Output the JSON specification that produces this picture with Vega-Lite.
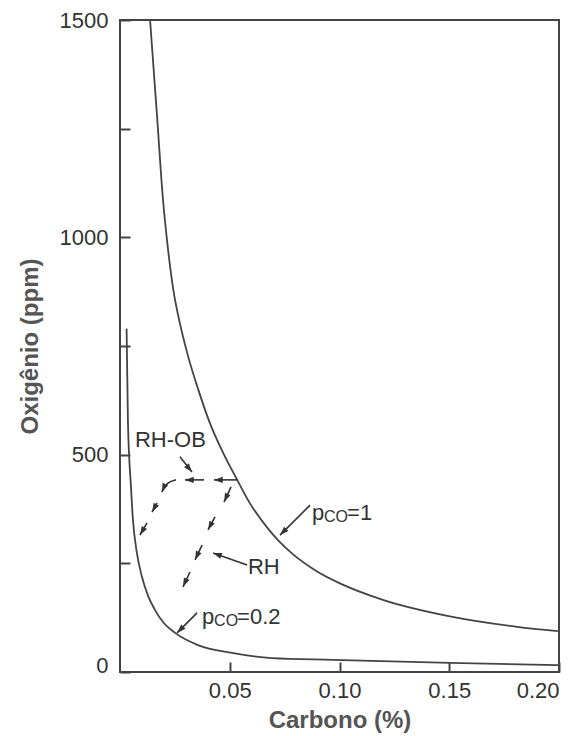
{
  "$schema": "https://vega.github.io/schema/vega-lite/v6.json",
  "width": 439,
  "height": 652,
  "autosize": "none",
  "padding": {"left": 120, "top": 20, "right": 16, "bottom": 64},
  "background": "white",
  "config": {
    "font": "Liberation Sans",
    "view": {"stroke": "#444", "strokeWidth": 2}
  },
  "datasets": {
    "curves": [
      {"curve": "pCO=1", "C": 0.0137, "O": 1500},
      {"curve": "pCO=1", "C": 0.0169, "O": 1277},
      {"curve": "pCO=1", "C": 0.0196, "O": 1086},
      {"curve": "pCO=1", "C": 0.0216, "O": 985},
      {"curve": "pCO=1", "C": 0.0243, "O": 879},
      {"curve": "pCO=1", "C": 0.0273, "O": 802},
      {"curve": "pCO=1", "C": 0.0311, "O": 725},
      {"curve": "pCO=1", "C": 0.0357, "O": 649},
      {"curve": "pCO=1", "C": 0.041, "O": 572},
      {"curve": "pCO=1", "C": 0.0471, "O": 503},
      {"curve": "pCO=1", "C": 0.0534, "O": 442},
      {"curve": "pCO=1", "C": 0.0592, "O": 388},
      {"curve": "pCO=1", "C": 0.0668, "O": 334},
      {"curve": "pCO=1", "C": 0.0724, "O": 301},
      {"curve": "pCO=1", "C": 0.079, "O": 270},
      {"curve": "pCO=1", "C": 0.0896, "O": 232},
      {"curve": "pCO=1", "C": 0.1002, "O": 204},
      {"curve": "pCO=1", "C": 0.1198, "O": 166},
      {"curve": "pCO=1", "C": 0.1503, "O": 128},
      {"curve": "pCO=1", "C": 0.1809, "O": 104},
      {"curve": "pCO=1", "C": 0.1995, "O": 94},
      {"curve": "pCO=0.2", "C": 0.003, "O": 790},
      {"curve": "pCO=0.2", "C": 0.0036, "O": 580},
      {"curve": "pCO=0.2", "C": 0.005, "O": 426},
      {"curve": "pCO=0.2", "C": 0.0059, "O": 350},
      {"curve": "pCO=0.2", "C": 0.0077, "O": 274},
      {"curve": "pCO=0.2", "C": 0.01, "O": 219},
      {"curve": "pCO=0.2", "C": 0.0128, "O": 175},
      {"curve": "pCO=0.2", "C": 0.0159, "O": 143},
      {"curve": "pCO=0.2", "C": 0.0196, "O": 115},
      {"curve": "pCO=0.2", "C": 0.0251, "O": 90},
      {"curve": "pCO=0.2", "C": 0.0355, "O": 62},
      {"curve": "pCO=0.2", "C": 0.051, "O": 44},
      {"curve": "pCO=0.2", "C": 0.0692, "O": 32},
      {"curve": "pCO=0.2", "C": 0.097, "O": 28},
      {"curve": "pCO=0.2", "C": 0.1503, "O": 21},
      {"curve": "pCO=0.2", "C": 0.1995, "O": 16}
    ],
    "strokes": [
      {"seg": "A1", "k": 0, "C": 0.0534, "O": 442},
      {"seg": "A1", "k": 1, "C": 0.0428, "O": 442},
      {"seg": "A2", "k": 0, "C": 0.0383, "O": 442},
      {"seg": "A2", "k": 1, "C": 0.0296, "O": 442},
      {"seg": "A3", "k": 0, "C": 0.0255, "O": 442},
      {"seg": "A3", "k": 1, "C": 0.0214, "O": 437},
      {"seg": "A3", "k": 2, "C": 0.0191, "O": 414},
      {"seg": "A4", "k": 0, "C": 0.0169, "O": 389},
      {"seg": "A4", "k": 1, "C": 0.0146, "O": 368},
      {"seg": "A5", "k": 0, "C": 0.0123, "O": 343},
      {"seg": "A5", "k": 1, "C": 0.0091, "O": 315},
      {"seg": "B1", "k": 0, "C": 0.0506, "O": 426},
      {"seg": "B1", "k": 1, "C": 0.0474, "O": 391},
      {"seg": "B2", "k": 0, "C": 0.0433, "O": 357},
      {"seg": "B2", "k": 1, "C": 0.0401, "O": 327},
      {"seg": "B3", "k": 0, "C": 0.0374, "O": 292},
      {"seg": "B3", "k": 1, "C": 0.0342, "O": 258},
      {"seg": "B4", "k": 0, "C": 0.0319, "O": 230},
      {"seg": "B4", "k": 1, "C": 0.0287, "O": 196},
      {"seg": "P1", "k": 0, "C": 0.0273, "O": 495},
      {"seg": "P1", "k": 1, "C": 0.0328, "O": 460},
      {"seg": "P2", "k": 0, "C": 0.0579, "O": 246},
      {"seg": "P2", "k": 1, "C": 0.0424, "O": 274},
      {"seg": "P3", "k": 0, "C": 0.0866, "O": 384},
      {"seg": "P3", "k": 1, "C": 0.0729, "O": 315},
      {"seg": "P4", "k": 0, "C": 0.0351, "O": 136},
      {"seg": "P4", "k": 1, "C": 0.026, "O": 90}
    ],
    "heads": [
      {"C": 0.0428, "O": 442, "heading": 270},
      {"C": 0.0296, "O": 442, "heading": 270},
      {"C": 0.0191, "O": 414, "heading": 203},
      {"C": 0.0146, "O": 368, "heading": 209},
      {"C": 0.0091, "O": 315, "heading": 210},
      {"C": 0.0474, "O": 391, "heading": 205},
      {"C": 0.0401, "O": 327, "heading": 208},
      {"C": 0.0342, "O": 258, "heading": 205},
      {"C": 0.0287, "O": 196, "heading": 205},
      {"C": 0.0328, "O": 460, "heading": 141},
      {"C": 0.0424, "O": 274, "heading": 290},
      {"C": 0.0729, "O": 315, "heading": 225},
      {"C": 0.026, "O": 90, "heading": 225}
    ],
    "notes": [
      {"C": 0.0068, "O": 534, "text": "RH-OB"},
      {"C": 0.0583, "O": 242, "text": "RH"}
    ],
    "pco": [
      {"C": 0.0875, "O": 366, "suffix": "=1"},
      {"C": 0.0374, "O": 127, "suffix": "=0.2"}
    ]
  },
  "encoding": {
    "x": {
      "field": "C",
      "type": "quantitative",
      "scale": {"domain": [0, 0.2], "nice": false, "zero": false},
      "axis": {
        "title": "Carbono (%)",
        "values": [0.05, 0.1, 0.15, 0.2],
        "format": ".2f",
        "domain": false,
        "grid": false,
        "tickSize": -10,
        "tickColor": "#444",
        "tickWidth": 2,
        "labelFontSize": 22,
        "labelColor": "#333",
        "labelPadding": 18,
        "titleFontSize": 24,
        "titleFontWeight": "bold",
        "titleColor": "#555",
        "titleX": 219.5,
        "titleY": 48,
        "titleBaseline": "middle"
      }
    },
    "y": {
      "field": "O",
      "type": "quantitative",
      "scale": {"domain": [0, 1500], "nice": false, "zero": false},
      "axis": {
        "title": "Oxigênio (ppm)",
        "values": [0, 250, 500, 750, 1000, 1250, 1500],
        "format": "d",
        "labelExpr": "datum.value % 500 == 0 ? datum.label : ''",
        "domain": false,
        "grid": false,
        "tickSize": -10,
        "tickColor": "#444",
        "tickWidth": 2,
        "labelFontSize": 22,
        "labelColor": "#333",
        "labelPadding": 22,
        "labelBaseline": {"expr": "datum.value == 0 ? 'alphabetic' : 'middle'"},
        "titleFontSize": 24,
        "titleFontWeight": "bold",
        "titleColor": "#555",
        "titleAngle": -90,
        "titleX": -90,
        "titleY": 326,
        "titleBaseline": "middle",
        "titleAlign": "center"
      }
    }
  },
  "layer": [
    {
      "data": {"name": "curves"},
      "mark": {"type": "line", "interpolate": "monotone", "color": "#444", "strokeWidth": 1.8},
      "encoding": {"detail": {"field": "curve"}}
    },
    {
      "data": {"name": "strokes"},
      "mark": {"type": "line", "interpolate": "basis", "color": "#333", "strokeWidth": 1.6},
      "encoding": {
        "detail": {"field": "seg"},
        "order": {"field": "k", "type": "quantitative"}
      }
    },
    {
      "data": {"name": "heads"},
      "mark": {
        "type": "point",
        "shape": "M0,0L-0.38,1.1L0.38,1.1Z",
        "filled": true,
        "size": 256,
        "color": "#333",
        "opacity": 1
      },
      "encoding": {
        "angle": {"field": "heading", "type": "quantitative", "scale": null}
      }
    },
    {
      "data": {"name": "notes"},
      "mark": {"type": "text", "align": "left", "baseline": "middle", "fontSize": 22, "color": "#333"},
      "encoding": {"text": {"field": "text"}}
    },
    {
      "data": {"name": "pco"},
      "mark": {"type": "text", "align": "left", "baseline": "middle", "fontSize": 22, "color": "#333", "text": "p"},
      "encoding": {}
    },
    {
      "data": {"name": "pco"},
      "mark": {"type": "text", "align": "left", "baseline": "middle", "fontSize": 16, "color": "#333", "text": "CO", "dx": 12, "dy": 4},
      "encoding": {}
    },
    {
      "data": {"name": "pco"},
      "mark": {"type": "text", "align": "left", "baseline": "middle", "fontSize": 22, "color": "#333", "dx": 35},
      "encoding": {"text": {"field": "suffix"}}
    }
  ]
}
